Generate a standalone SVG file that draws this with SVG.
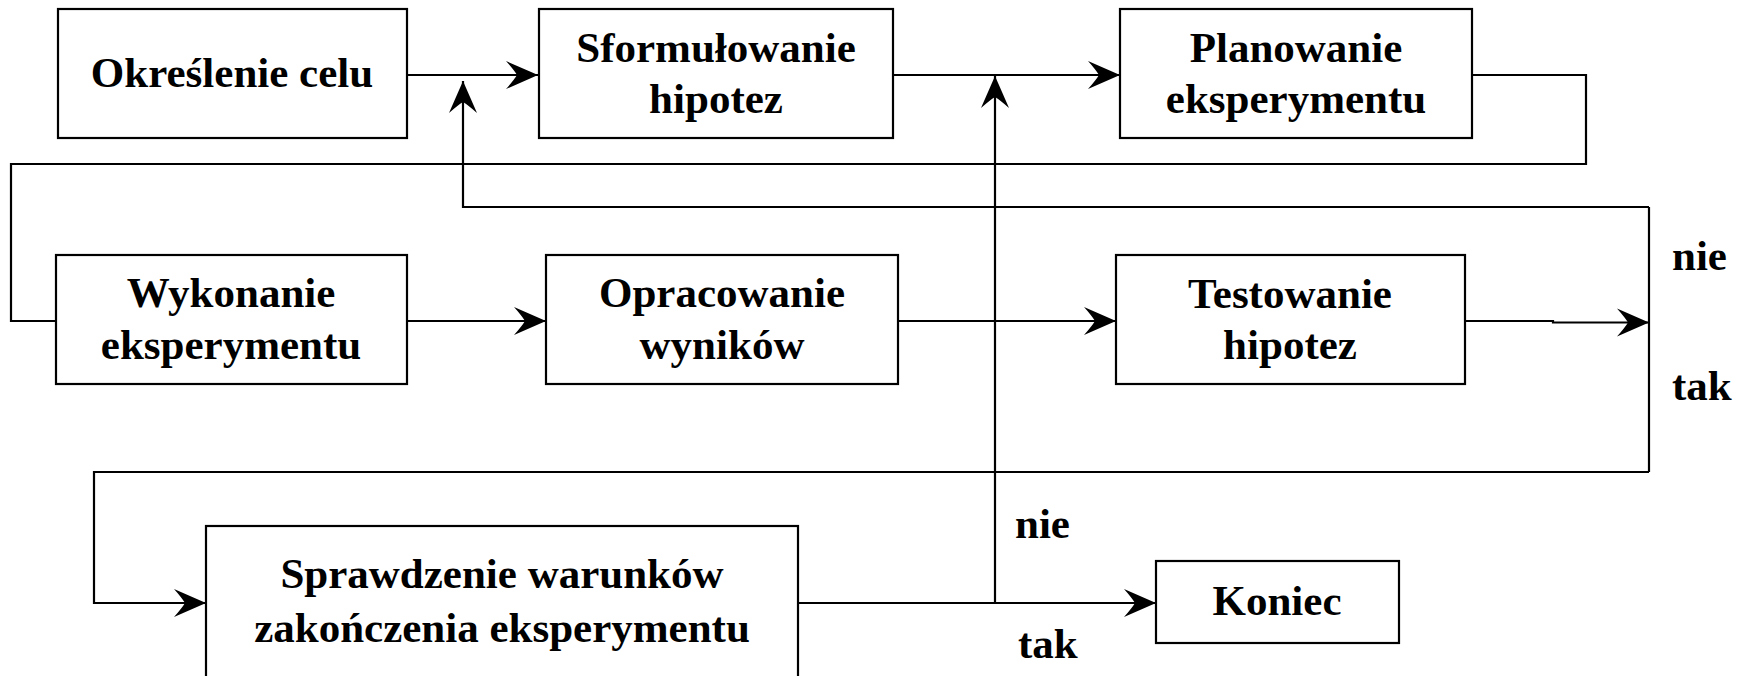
<svg xmlns="http://www.w3.org/2000/svg" width="1748" height="676" viewBox="0 0 1748 676">
  <style>
    .box { fill: #ffffff; stroke: #000000; stroke-width: 2.2; }
    .line { fill: none; stroke: #000000; stroke-width: 2.2; }
    .t { font-family: "Liberation Serif", "Times New Roman", serif; font-weight: bold; font-size: 43px; fill: #000000; text-anchor: middle; }
    .lbl { font-family: "Liberation Serif", "Times New Roman", serif; font-weight: bold; font-size: 43px; fill: #000000; }
  </style>
  <defs>
    <marker id="arrow" markerUnits="userSpaceOnUse" viewBox="-34 -15 36 30" refX="0" refY="0" markerWidth="36" markerHeight="30" orient="auto">
      <path d="M0,0 L-32,-14 Q-24,-5 -21,0 Q-24,5 -32,14 Z" fill="#000000"/>
    </marker>
  </defs>
  <rect width="1748" height="676" fill="#ffffff"/>

  <g id="connectors">
    <!-- top row -->
    <path class="line" d="M407,75 H538" marker-end="url(#arrow)"/>
    <path class="line" d="M893,75 H1120" marker-end="url(#arrow)"/>
    <!-- planning to execution -->
    <path class="line" d="M1472,75 H1586 V164 H11 V321 H56"/>
    <!-- middle row -->
    <path class="line" d="M407,321 H546" marker-end="url(#arrow)"/>
    <path class="line" d="M898,321 H1116" marker-end="url(#arrow)"/>
    <path class="line" d="M1465,321 H1553 V322.5 H1649" marker-end="url(#arrow)"/>
    <!-- decision after testing -->
    <path class="line" d="M1649,207 V472"/>
    <path class="line" d="M1649,207 H463 V81" marker-end="url(#arrow)"/>
    <path class="line" d="M1649,472 H94 V603 H206" marker-end="url(#arrow)"/>
    <!-- end condition -->
    <path class="line" d="M798,603 H1156" marker-end="url(#arrow)"/>
    <path class="line" d="M995,603 V76" marker-end="url(#arrow)"/>
  </g>

  <g id="node-okreslenie">
    <rect class="box" x="58" y="9" width="349" height="129"/>
    <text class="t" x="232" y="87">Określenie celu</text>
  </g>
  <g id="node-sformulowanie">
    <rect class="box" x="539" y="9" width="354" height="129"/>
    <text class="t" x="716" y="62">Sformułowanie</text>
    <text class="t" x="716" y="113">hipotez</text>
  </g>
  <g id="node-planowanie">
    <rect class="box" x="1120" y="9" width="352" height="129"/>
    <text class="t" x="1296" y="62">Planowanie</text>
    <text class="t" x="1296" y="113">eksperymentu</text>
  </g>
  <g id="node-wykonanie">
    <rect class="box" x="56" y="255" width="351" height="129"/>
    <text class="t" x="231" y="307">Wykonanie</text>
    <text class="t" x="231" y="359">eksperymentu</text>
  </g>
  <g id="node-opracowanie">
    <rect class="box" x="546" y="255" width="352" height="129"/>
    <text class="t" x="722" y="307">Opracowanie</text>
    <text class="t" x="722" y="359">wyników</text>
  </g>
  <g id="node-testowanie">
    <rect class="box" x="1116" y="255" width="349" height="129"/>
    <text class="t" x="1290" y="308">Testowanie</text>
    <text class="t" x="1290" y="359">hipotez</text>
  </g>
  <g id="node-sprawdzenie">
    <rect class="box" x="206" y="526" width="592" height="160"/>
    <text class="t" x="502" y="588">Sprawdzenie warunków</text>
    <text class="t" x="502" y="642">zakończenia eksperymentu</text>
  </g>
  <g id="node-koniec">
    <rect class="box" x="1156" y="561" width="243" height="82"/>
    <text class="t" x="1277" y="615">Koniec</text>
  </g>

  <g id="labels">
    <text class="lbl" x="1672" y="270">nie</text>
    <text class="lbl" x="1672" y="400">tak</text>
    <text class="lbl" x="1015" y="538">nie</text>
    <text class="lbl" x="1018" y="658">tak</text>
  </g>
</svg>
